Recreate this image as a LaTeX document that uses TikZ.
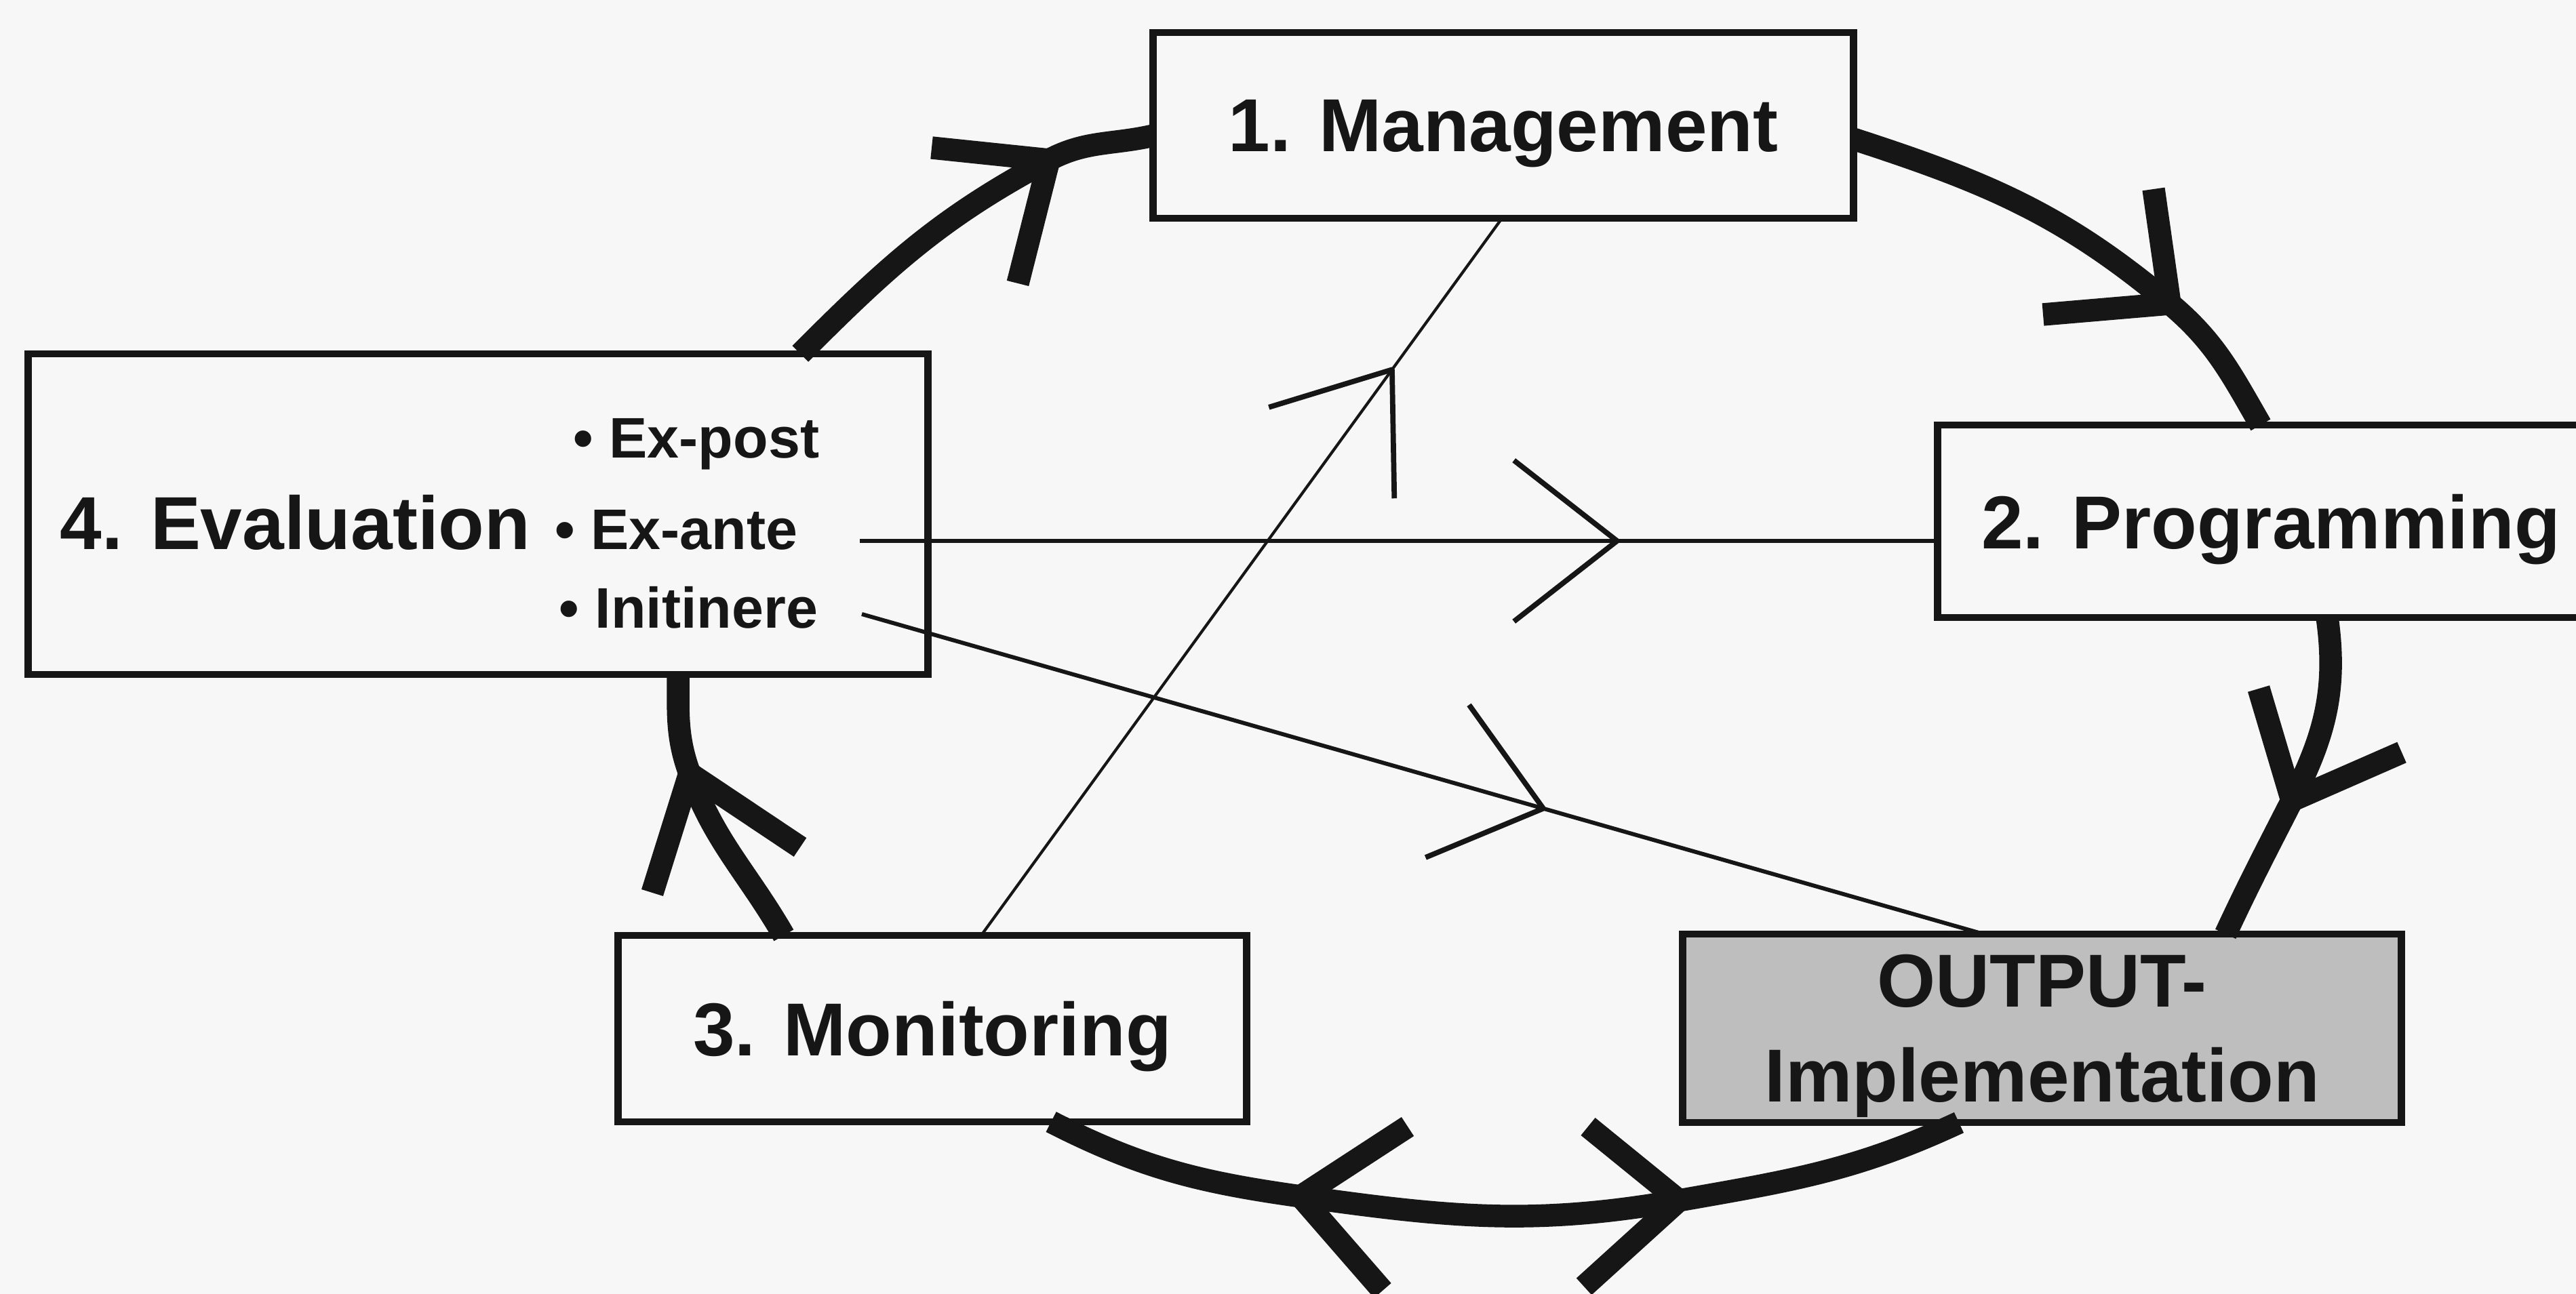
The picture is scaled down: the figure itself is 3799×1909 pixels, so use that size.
\documentclass[tikz,border=0pt]{standalone}
\usepackage{fontspec}
\setmainfont{Liberation Sans}
\usetikzlibrary{calc}
\definecolor{ink}{HTML}{161616}
\definecolor{paper}{HTML}{F7F7F7}
\definecolor{outfill}{HTML}{BEBEBE}
\begin{document}
\begin{tikzpicture}[x=0.01cm,y=0.01cm,
  box/.style={draw=ink, line width=3pt, inner sep=0pt, outer sep=0pt, text depth=0pt, text=ink,
    font=\bfseries\fontsize{31.5pt}{39.7pt}\selectfont, align=center},
  big/.style={font=\bfseries\fontsize{31.5pt}{39.7pt}\selectfont, inner sep=0pt, text=ink},
  small/.style={font=\bfseries\fontsize{24pt}{28pt}\selectfont, inner sep=0pt, text=ink},
  cyc/.style={draw=ink, line width=9.5pt},
  cycarm/.style={draw=ink, line width=9.5pt, line join=round},
  thinline/.style={draw=ink, line width=1.7pt},
  hairline/.style={draw=ink, line width=1.2pt},
  thinarm/.style={draw=ink, line width=2.2pt, line join=round},
]
\useasboundingbox (0,0) rectangle (3799,1909);
\clip (0,0) rectangle (3799,1909);
\fill[paper] (0,0) rectangle (3799,1909);

% boxes
\node[box, minimum width=10.32cm, minimum height=2.74cm] (mg) at (2217,1724) {1. Management};
\node[box, minimum width=9.82cm, minimum height=2.84cm] (pg) at (3349,1140) {2. Programming};
\node[box, minimum width=13.26cm, minimum height=4.73cm] (ev) at (705,1150.5) {};
\node[box, minimum width=9.26cm, minimum height=2.75cm] (mo) at (1375,391.5) {3. Monitoring};
\node[box, fill=outfill, minimum width=10.59cm, minimum height=2.78cm] (out) at (3011.5,392) {OUTPUT-\\Implementation};

% texts inside evaluation box
\node[big, anchor=base west] (evt) at (88,1098) {4. Evaluation};
\node[small, anchor=base west] (exp) at (845,1233) {• Ex-post};
\node[small, anchor=base west] (exa) at (818,1098) {• Ex-ante};
\node[small, anchor=base west] (iti) at (824,982) {• Initinere};

% cycle arcs
\coordinate (tA) at (1547,1673);
\draw[cyc] ([xshift=-1.88cm]ev.north east) to[out=45,in=208] (tA) to[out=28,in=193] ([yshift=-0.15cm]mg.west);
\draw[cycarm] (1374,1691) -- (tA) -- (1501,1491);

\coordinate (tB) at (3200,1461);
\draw[cyc] ([yshift=-0.2cm]mg.east) to[out=-18,in=140] (tB) to[out=-40,in=120] ([xshift=4.76cm]pg.north west);
\draw[cycarm] (3013,1445) -- (tB) -- (3176,1630);

\coordinate (tC) at (3380,728);
\draw[cyc] ([xshift=5.74cm]pg.south west) to[out=-82,in=63] (tC) to[out=-117,in=65] ([xshift=8cm]out.north west);
\draw[cycarm] (3331,893) -- (tC) -- (3542,799);

\coordinate (tDL) at (1918,144);
\coordinate (tDR) at (2476,138);
\draw[cyc] ([xshift=6.38cm]mo.south west) to[out=-27,in=172] (tDL) to[out=-8,in=190] (tDR) to[out=10,in=205] ([xshift=4.07cm]out.south west);
\draw[cycarm] (2076,247) -- (tDL) -- (2039,5);
\draw[cycarm] (2342,247) -- (tDR) -- (2336,11);

\coordinate (tE) at (1017,768);
\draw[cyc] ([xshift=2.44cm]mo.north west) to[out=120,in=-70] (tE) to[out=110,in=-90] ([xshift=9.58cm]ev.south west);
\draw[cycarm] (962,592) -- (tE) -- (1180,659);

% thin connectors
\draw[hairline] ([xshift=5.35cm]mo.north west) -- coordinate[pos=0.789] (t1) ([xshift=5.14cm]mg.south west);
\draw[thinarm] (t1) ++(197:190) -- (t1) -- ++(271:190);

\coordinate (s2) at (1268,1111);
\draw[thinline] (s2) -- coordinate[pos=0.7025] (t2) (pg.west |- s2);
\draw[thinarm] (t2) ++(142:193) -- (t2) -- ++(218:193);

\coordinate (s3) at (1271,1003);
\draw[thinline] (s3) -- coordinate[pos=0.6076] (t3) ([xshift=4.43cm]out.north west);
\draw[thinarm] (t3) ++(125.6:188) -- (t3) -- ++(202.6:188);
\end{tikzpicture}
\end{document}
